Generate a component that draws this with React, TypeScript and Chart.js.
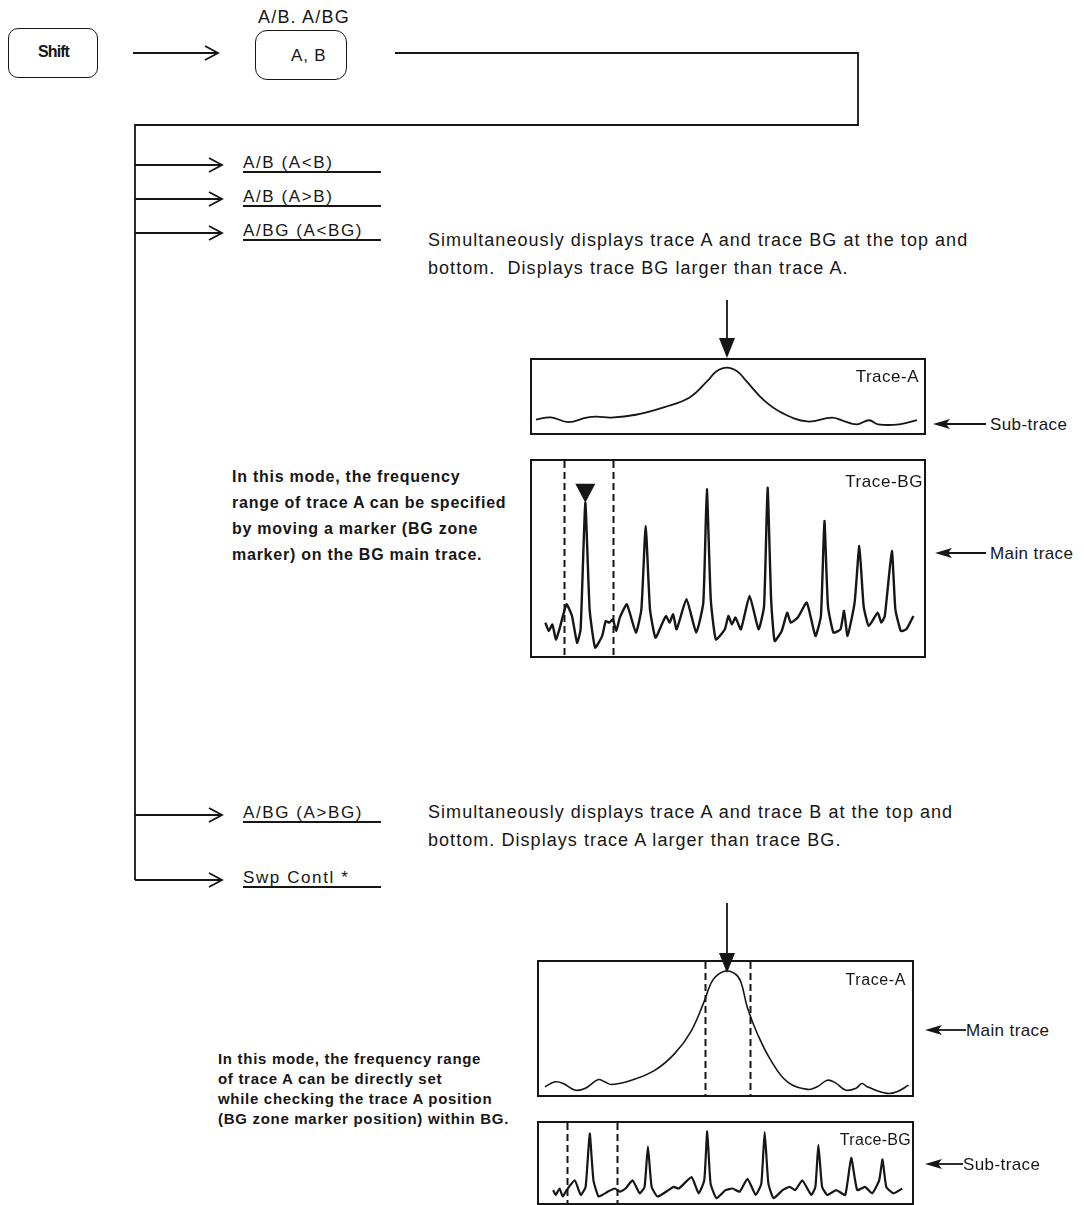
import React, { useEffect, useRef } from "react";
import { Chart, registerables } from "chart.js";

Chart.register(...registerables);

// ---------- data (x: 0..100 % of span, y: 0..100 % of display height) ----------
const TOP_A_X = [1.0, 4.8, 9.3, 13.9, 16.5, 20.2, 26.5, 33.8, 40.2, 44.7, 47.0, 49.7, 52.4, 54.7, 59.2, 63.8, 70.2, 76.5, 79.2, 82.8, 86.0, 88.3, 93.7, 98.2];
const TOP_A_Y = [18.4, 21.4, 14.9, 21.1, 22.4, 21.1, 25, 35.5, 48.7, 71, 84.2, 89.5, 84.2, 71, 44.7, 27.6, 15.8, 21.1, 17.1, 11.8, 17.5, 11.8, 11.8, 17.5];

const TOP_BG_X = [3.4, 4.3, 5.2, 6.1, 7.0, 8.8, 10.2, 11.5, 12.4, 13.6, 14.7, 16.1, 17.9, 18.8, 19.7, 20.6, 21.5, 22.4, 24.2, 26.5, 27.9, 29.0, 30.1, 31.5, 33.3, 34.2, 35.1, 36.0, 36.9, 39.4, 41.9, 43.7, 44.6, 45.6, 46.9, 49.2, 50.1, 51.0, 51.9, 53.3, 55.5, 57.8, 59.2, 60.1, 61.0, 61.9, 63.7, 65.1, 66.0, 67.8, 70.1, 72.3, 73.7, 74.6, 75.5, 76.9, 78.7, 79.6, 80.5, 82.3, 83.5, 84.6, 85.9, 88.2, 89.1, 90.0, 91.8, 92.7, 94.1, 95.5, 97.3];
const TOP_BG_Y = [17.1, 12.8, 16.2, 8.5, 13.7, 26.5, 20.5, 6.8, 13.7, 78.6, 23.9, 4.3, 10.3, 17.9, 17.1, 18.8, 12.8, 19.7, 26.5, 12.0, 23.9, 66.7, 23.9, 9.4, 17.1, 20.5, 17.1, 21.4, 13.7, 29.1, 12.0, 27.4, 85.5, 29.1, 8.5, 13.7, 20.5, 16.2, 19.7, 13.7, 30.8, 13.7, 25.6, 86.3, 29.1, 7.7, 12.8, 22.2, 17.1, 19.7, 27.4, 10.3, 20.5, 69.2, 25.6, 12.0, 13.7, 23.1, 10.3, 27.4, 56.4, 25.6, 15.4, 22.2, 17.1, 20.5, 53.8, 23.9, 12.8, 13.7, 20.5];
const TOP_BG_ZONE = [8.2, 20.6];
const TOP_BG_MARKER = [13.6, 78.6];

const BOT_A_X = [1.6, 4.3, 6.5, 9.6, 12.3, 15.9, 17.6, 19.4, 24.8, 31.0, 36.3, 40.8, 44.3, 46.6, 49.7, 52.4, 54.1, 55.9, 58.6, 62.2, 66.6, 72.0, 74.6, 77.3, 79.5, 82.2, 84.9, 86.6, 88.0, 93.3, 96.0, 99.1];
const BOT_A_Y = [6.2, 9.9, 8.6, 3.7, 4.9, 11.6, 9.9, 7.9, 11.1, 18.5, 30.9, 48.1, 70.4, 86.4, 93.1, 91.4, 85.2, 65.4, 45.7, 25.9, 9.9, 4.2, 6.2, 11.1, 9.1, 3.7, 4.9, 8.6, 6.2, 1.2, 2.5, 7.4];
const BOT_A_ZONE = [44.5, 56.6];

const BOT_BG_X = [3.8, 4.5, 5.5, 6.4, 7.4, 9.6, 11.2, 12.5, 13.6, 14.6, 16.0, 18.4, 20.3, 21.7, 23.2, 25.1, 27.0, 28.3, 29.2, 30.2, 31.8, 34.7, 36.1, 37.5, 40.9, 42.8, 44.3, 45.1, 46.0, 47.6, 50.0, 51.9, 53.8, 55.9, 58.1, 59.6, 60.5, 61.5, 62.9, 65.3, 67.2, 68.7, 70.6, 73.0, 74.1, 74.9, 75.9, 77.3, 79.7, 82.1, 83.7, 85.3, 87.4, 89.3, 91.2, 92.1, 93.1, 95.0, 97.4];
const BOT_BG_Y = [16.1, 10.1, 18.1, 8.1, 16.1, 28.2, 10.1, 20.2, 86.7, 28.2, 8.1, 14.1, 18.1, 14.1, 18.1, 28.2, 12.1, 20.2, 70.6, 20.2, 8.1, 16.1, 20.2, 18.1, 32.3, 12.1, 28.2, 89.5, 24.2, 6.0, 16.1, 18.1, 14.1, 30.2, 10.1, 24.2, 88.7, 24.2, 6.0, 16.1, 20.2, 16.1, 28.2, 10.1, 20.2, 72.6, 20.2, 10.1, 16.1, 10.1, 56.5, 16.1, 20.2, 12.1, 28.2, 54.4, 20.2, 12.1, 18.1];
const BOT_BG_ZONE = [7.4, 20.8];

const MENU_ITEMS = ["A/B (A<B)", "A/B (A>B)", "A/BG (A<BG)", "A/BG (A>BG)", "Swp Contl *"];

const INK = "#161616";
const FONT = '"Liberation Sans", Arial, Helvetica, sans-serif';

const zonePlugin = {
  id: "zones",
  afterDatasetsDraw(chart: any, _args: any, opts: any) {
    const { ctx, chartArea, scales } = chart;
    const x = scales.x;
    const y = scales.y;
    ctx.save();
    ctx.strokeStyle = INK;
    ctx.fillStyle = INK;
    ctx.lineWidth = 2;
    ctx.setLineDash([7, 4]);
    for (const z of opts.zones || []) {
      const px = Math.round(x.getPixelForValue(z)) + 0.5;
      ctx.beginPath();
      ctx.moveTo(px, chartArea.top);
      ctx.lineTo(px, chartArea.bottom);
      ctx.stroke();
    }
    ctx.setLineDash([]);
    if (opts.marker) {
      const px = x.getPixelForValue(opts.marker[0]);
      const py = y.getPixelForValue(opts.marker[1]);
      ctx.beginPath();
      ctx.moveTo(px, py);
      ctx.lineTo(px - 10, py - 19);
      ctx.lineTo(px + 10, py - 19);
      ctx.closePath();
      ctx.fill();
    }
    ctx.restore();
  },
};

type TraceProps = {
  left: number; top: number; width: number; height: number;
  xs: number[]; ys: number[]; zones?: number[]; marker?: number[];
  lineWidth: number; tension: number; label: string; labelTop: number; labelRight: number; labelSize: number; labelSpacing: number;
};

function TraceChart(p: TraceProps) {
  const ref = useRef<HTMLCanvasElement>(null);
  const innerW = p.width - 4;
  const innerH = p.height - 4;
  useEffect(() => {
    if (!ref.current) return;
    const chart = new Chart(ref.current, {
      type: "line",
      data: {
        datasets: [
          {
            data: p.xs.map((x, i) => ({ x, y: p.ys[i] })),
            borderColor: INK,
            borderWidth: p.lineWidth,
            pointRadius: 0,
            tension: p.tension,
            fill: false,
          },
        ],
      },
      options: {
        animation: false,
        responsive: false,
        maintainAspectRatio: false,
        layout: { padding: 0 },
        events: [],
        scales: {
          x: { type: "linear", min: 0, max: 100, display: false },
          y: { type: "linear", min: 0, max: 100, display: false },
        },
        plugins: {
          legend: { display: false },
          tooltip: { enabled: false },
          zones: { zones: p.zones || [], marker: p.marker || null },
        } as any,
      },
      plugins: [zonePlugin],
    });
    return () => chart.destroy();
  }, []);
  return (
    <div
      style={{
        position: "absolute",
        left: p.left,
        top: p.top,
        width: innerW,
        height: innerH,
        border: `2px solid ${INK}`,
      }}
    >
      <canvas ref={ref} width={innerW} height={innerH} style={{ display: "block", width: innerW, height: innerH }} />
      <div
        style={{
          position: "absolute",
          right: p.labelRight,
          top: p.labelTop,
          fontSize: p.labelSize,
          lineHeight: "18px",
          whiteSpace: "nowrap",
          letterSpacing: p.labelSpacing,
        }}
      >
        {p.label}
      </div>
    </div>
  );
}

function Txt(props: { x: number; y: number; size: number; weight?: number; children: any; lh?: number; spacing?: number }) {
  const lh = props.lh || props.size + 4;
  return (
    <div
      style={{
        position: "absolute",
        left: props.x,
        top: props.y - lh / 2,
        fontSize: props.size,
        lineHeight: `${lh}px`,
        fontWeight: props.weight || 400,
        whiteSpace: "pre",
        letterSpacing: props.spacing || 0,
      }}
    >
      {props.children}
    </div>
  );
}

function OpenArrow({ x1, x2, y }: { x1: number; x2: number; y: number }) {
  return (
    <g>
      <line x1={x1} y1={y} x2={x2} y2={y} />
      <polyline points={`${x2 - 13},${y - 7} ${x2},${y} ${x2 - 13},${y + 7}`} fill="none" />
    </g>
  );
}

function LeftArrow({ tip, end, y }: { tip: number; end: number; y: number }) {
  return (
    <g>
      <line x1={tip + 10} y1={y} x2={end} y2={y} />
      <polygon points={`${tip},${y} ${tip + 17},${y - 5} ${tip + 13},${y} ${tip + 17},${y + 5}`} fill={INK} stroke="none" />
    </g>
  );
}

function DownArrow({ x, y1, tip }: { x: number; y1: number; tip: number }) {
  return (
    <g>
      <line x1={x} y1={y1} x2={x} y2={tip - 18} />
      <polygon points={`${x - 8},${tip - 20} ${x + 8},${tip - 20} ${x},${tip}`} fill={INK} stroke="none" />
    </g>
  );
}

export default function App() {
  const branchY = [165, 199, 233, 815, 880];
  const labelY = [162, 196, 230, 812, 877];
  return (
    <div
      style={{
        position: "absolute",
        left: 0,
        top: 0,
        width: 1084,
        height: 1205,
        overflow: "hidden",
        background: "#fff",
        color: INK,
        fontFamily: FONT,
      }}
    >
      {/* key boxes */}
      <div style={{ position: "absolute", left: 8, top: 28, width: 88, height: 48, border: `1.5px solid ${INK}`, borderRadius: 10 }} />
      <Txt x={38} y={52} size={16} weight={700} spacing={-0.9}>Shift</Txt>
      <Txt x={258} y={17} size={18} spacing={1.2}>A/B. A/BG</Txt>
      <div style={{ position: "absolute", left: 255, top: 30, width: 90, height: 48, border: `1.5px solid ${INK}`, borderRadius: 12 }} />
      <Txt x={291} y={55} size={17} spacing={0.8}>A, B</Txt>

      {/* menu labels */}
      {MENU_ITEMS.map((m, i) => (
        <Txt key={m} x={243} y={labelY[i]} size={17} spacing={1.6}>{m}</Txt>
      ))}

      <Txt x={428} y={240} size={18} spacing={1.05}>Simultaneously displays trace A and trace BG at the top and</Txt>
      <Txt x={428} y={268} size={18} spacing={1.05}>bottom.  Displays trace BG larger than trace A.</Txt>
      <Txt x={428} y={812} size={18} spacing={1.05}>Simultaneously displays trace A and trace B at the top and</Txt>
      <Txt x={428} y={840} size={18} spacing={1.05}>bottom. Displays trace A larger than trace BG.</Txt>

      {[
        "In this mode, the frequency",
        "range of trace A can be specified",
        "by moving a marker (BG zone",
        "marker) on the BG main trace.",
      ].map((t, i) => (
        <Txt key={t} x={232} y={477 + i * 26} size={16} weight={700} spacing={0.75}>{t}</Txt>
      ))}
      {[
        "In this mode, the frequency range",
        "of trace A can be directly set",
        "while checking the trace A position",
        "(BG zone marker position) within BG.",
      ].map((t, i) => (
        <Txt key={t} x={218} y={1058 + i * 20.3} size={15} weight={700} spacing={0.7}>{t}</Txt>
      ))}

      <TraceChart left={530} top={358} width={396} height={77} xs={TOP_A_X} ys={TOP_A_Y}
        lineWidth={1.8} tension={0.4} label="Trace-A" labelTop={8} labelRight={5} labelSize={17} labelSpacing={0.5} />
      <TraceChart left={530} top={459} width={396} height={199} xs={TOP_BG_X} ys={TOP_BG_Y}
        zones={TOP_BG_ZONE} marker={TOP_BG_MARKER}
        lineWidth={2.4} tension={0.15} label="Trace-BG" labelTop={12} labelRight={1} labelSize={17} labelSpacing={0.6} />
      <TraceChart left={537} top={960} width={377} height={137} xs={BOT_A_X} ys={BOT_A_Y}
        zones={BOT_A_ZONE}
        lineWidth={1.6} tension={0.4} label="Trace-A" labelTop={9} labelRight={6} labelSize={16} labelSpacing={0.6} />
      <TraceChart left={537} top={1121} width={377} height={84} xs={BOT_BG_X} ys={BOT_BG_Y}
        zones={BOT_BG_ZONE}
        lineWidth={2.2} tension={0.15} label="Trace-BG" labelTop={8} labelRight={1} labelSize={16} labelSpacing={0.3} />

      <Txt x={990} y={424} size={17} spacing={0.4}>Sub-trace</Txt>
      <Txt x={990} y={553} size={17} spacing={0.4}>Main trace</Txt>
      <Txt x={966} y={1030} size={17} spacing={0.4}>Main trace</Txt>
      <Txt x={963} y={1164} size={17} spacing={0.4}>Sub-trace</Txt>

      <svg width={1084} height={1205} style={{ position: "absolute", left: 0, top: 0, pointerEvents: "none" }}
        stroke={INK} strokeWidth={1.8} fill="none">
        <OpenArrow x1={133} x2={218} y={53} />
        <polyline points="395,53 858,53 858,125 135,125 135,880" />
        {branchY.map((y) => (
          <OpenArrow key={y} x1={135} x2={222} y={y} />
        ))}
        {labelY.map((y) => (
          <line key={"u" + y} x1={243} y1={y + 10} x2={381} y2={y + 10} />
        ))}
        <DownArrow x={727} y1={300} tip={358} />
        <DownArrow x={727} y1={903} tip={973} />
        <LeftArrow tip={933} end={986} y={424} />
        <LeftArrow tip={935} end={986} y={553} />
        <LeftArrow tip={925} end={966} y={1030} />
        <LeftArrow tip={925} end={963} y={1164} />
      </svg>
    </div>
  );
}
